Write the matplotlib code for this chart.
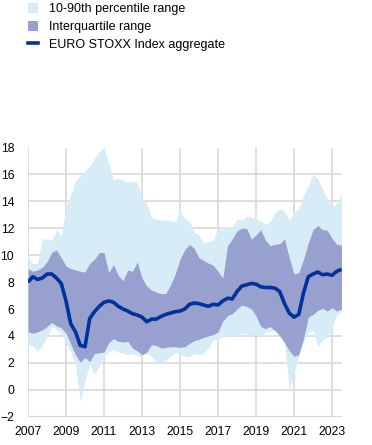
import numpy as np
import matplotlib
matplotlib.use("Agg")
import matplotlib.pyplot as plt
from matplotlib.patches import Patch
from matplotlib.lines import Line2D

plt.rcParams['font.family'] = ['Liberation Sans', 'DejaVu Sans']

# quarterly observations, 2007Q1 .. 2023Q3
start_year = 2007
n_q = 67
x = start_year + np.arange(n_q) / 4.0

median = [8.0, 8.4, 8.2, 8.3, 8.6, 8.6, 8.3, 7.9,
          6.6, 4.9, 4.3, 3.3, 3.2, 5.3, 5.8, 6.2,
          6.5, 6.6, 6.5, 6.2, 6.0, 5.85, 5.65, 5.55,
          5.4, 5.05, 5.25, 5.25, 5.45, 5.6, 5.7, 5.8,
          5.85, 6.0, 6.35, 6.45, 6.4, 6.3, 6.2, 6.35,
          6.3, 6.6, 6.8, 6.75, 7.3, 7.7, 7.8, 7.9,
          7.85, 7.65, 7.6, 7.6, 7.55, 7.3, 6.4, 5.7,
          5.4, 5.6, 7.2, 8.4, 8.6, 8.75, 8.55, 8.6,
          8.5, 8.8, 8.95]

p75 = [9.0, 8.8, 8.9, 9.1, 9.5, 10.2, 10.4, 9.8,
       9.2, 9.0, 8.9, 8.8, 8.75, 9.4, 9.7, 10.2,
       10.2, 8.7, 9.3, 8.5, 8.1, 8.9, 8.8, 9.5,
       8.3, 7.7, 7.4, 7.25, 7.15, 7.15, 7.8, 8.6,
       9.7, 10.4, 10.8, 10.5, 9.8, 9.6, 9.4, 9.25,
       8.8, 8.3, 10.7, 11.2, 11.8, 12.0, 12.0, 11.2,
       11.5, 11.9, 11.1, 10.7, 10.8, 10.85, 11.2, 9.8,
       8.6, 8.7, 9.7, 10.9, 11.9, 12.2, 11.9, 11.85,
       11.25, 10.8, 10.75]

p25 = [4.3, 4.2, 4.3, 4.45, 4.7, 5.0, 4.75, 4.6,
       4.2, 3.4, 2.6, 2.05, 2.4, 2.1, 2.7, 2.75,
       2.8, 3.5, 3.8, 3.6, 3.55, 3.6, 3.1, 2.9,
       2.6, 2.8, 3.35, 3.3, 3.1, 3.15, 3.2, 3.2,
       3.15, 3.2, 3.45, 3.65, 3.75, 3.9, 4.0, 4.1,
       4.3, 5.1, 5.5, 5.65, 6.0, 6.3, 6.2, 6.0,
       5.5, 4.7, 4.55, 4.7, 4.4, 4.0, 3.5, 2.9,
       2.5, 2.6, 3.8, 5.4, 5.6, 5.9, 6.05, 5.85,
       6.1, 5.85, 6.0]

p10 = [3.3, 3.3, 2.85, 3.3, 3.9, 4.7, 4.5, 4.2,
       3.5, 2.8, 1.9, -0.9, 0.7, 1.9, 1.2, 1.8,
       2.5, 2.8, 3.0, 2.8, 2.7, 2.6, 2.7, 2.55,
       2.5, 2.75, 2.5, 2.1, 2.05, 2.2, 2.5, 2.8,
       2.65, 2.5, 2.45, 2.7, 2.6, 2.7, 3.1, 3.7,
       3.8, 3.95, 4.0, 4.05, 4.05, 4.2, 4.15, 4.1,
       4.05, 4.0, 4.3, 4.35, 4.4, 4.3, 3.6, 0.05,
       1.2, 2.6, 3.6, 4.3, 4.4, 3.2, 3.7, 3.9,
       4.6, 5.6, 5.8]

p90 = [9.9, 9.35, 9.4, 11.2, 11.2, 11.1, 11.9, 11.4,
       13.5, 14.5, 15.5, 15.9, 16.3, 16.6, 17.2, 17.7,
       18.0, 16.8, 15.6, 15.7, 15.6, 15.4, 15.5, 15.4,
       14.2, 13.85, 12.8, 12.7, 12.6, 12.65, 12.55, 12.5,
       13.3, 12.7, 12.5, 11.7, 11.5, 10.9, 11.0, 11.1,
       12.0, 12.15, 12.1, 12.1, 12.7, 12.6, 12.9, 12.8,
       12.7, 12.55, 12.3, 12.5, 13.2, 13.45, 13.3, 12.6,
       13.2, 13.4, 14.4, 15.1, 16.0, 15.7, 14.9, 14.2,
       13.5, 13.9, 14.5]

xticks = [2007, 2009, 2011, 2013, 2015, 2017, 2019, 2021, 2023]
yticks = list(range(-2, 19, 2))

labels = ["10-90th percentile range", "Interquartile range",
          "EURO STOXX Index aggregate"]

c_light = "#d6ecf7"
c_iqr = "#98a0cf"
c_line = "#003299"
c_grid = "#d9d9d9"

fig = plt.figure(figsize=(3.72, 4.45), dpi=100)
ax = fig.add_axes([28/372, 1-416.7/445, 313.5/372, 269.2/445])

ax.fill_between(x, p10, p90, color=c_light, lw=0, zorder=2)
ax.fill_between(x, p25, p75, color=c_iqr, lw=0, zorder=3)
ax.plot(x, median, color=c_line, lw=2.6, zorder=4, solid_capstyle='butt')

ax.set_xlim(x[0], x[-1])
ax.set_ylim(-2, 18)
ax.set_xticks(xticks)
ax.set_yticks(yticks)
ax.grid(True, color=c_grid, lw=1.2, zorder=0)
ax.set_axisbelow(True)
for s in ax.spines.values():
    s.set_visible(False)
ax.axhline(-2, color=c_grid, lw=1.5, zorder=1)
ax.tick_params(axis='both', length=0, labelsize=8.7, colors='black')
ax.tick_params(axis='y', pad=10)
ax.tick_params(axis='x', pad=7)
ax.set_facecolor('white')

handles = [Patch(facecolor=c_light, edgecolor='none'),
           Patch(facecolor=c_iqr, edgecolor='none'),
           Line2D([0], [0], color=c_line, lw=2.6)]
fig.legend(handles, labels, loc='upper left', bbox_to_anchor=(28/372, 1 - 3/445),
           frameon=False, fontsize=9.0, handlelength=0.83, handleheight=0.83,
           handletextpad=0.85, labelspacing=0.45, borderaxespad=0, borderpad=0)

fig.savefig("out.png", dpi=100)
